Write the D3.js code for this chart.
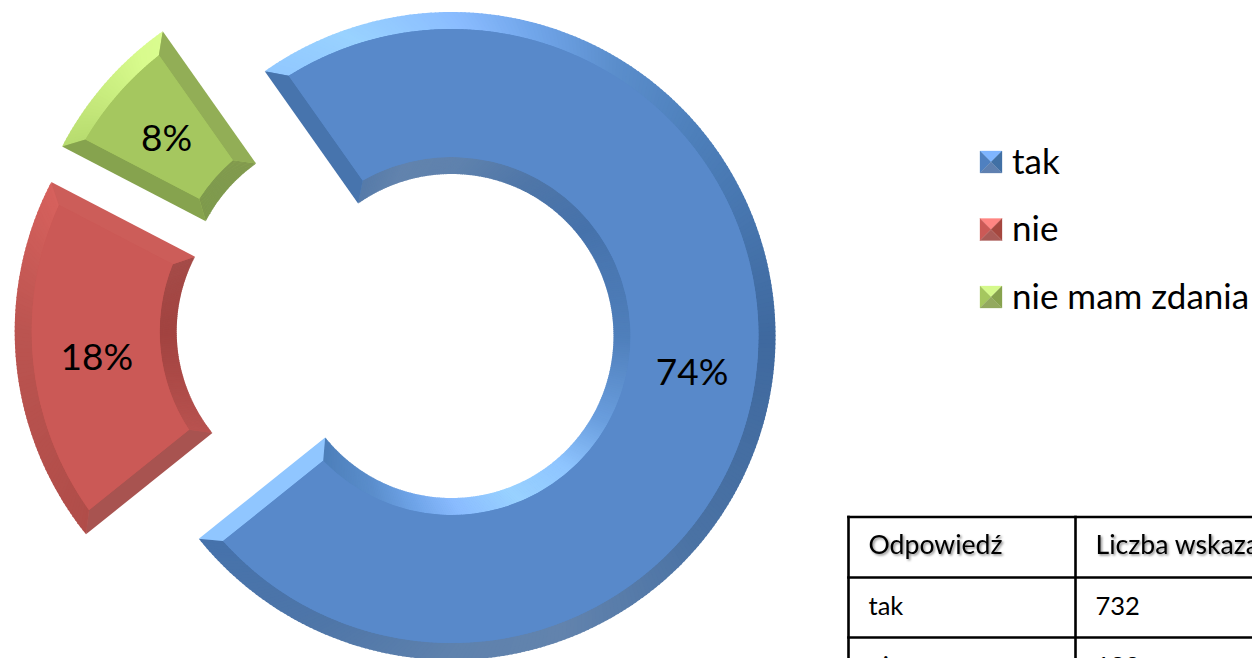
<!DOCTYPE html>
<html lang="pl">
<head>
<meta charset="utf-8">
<script src="https://cdn.jsdelivr.net/npm/d3@7"></script>
<style>
html,body{margin:0;padding:0;background:#fff;overflow:hidden}
svg{display:block}
text{font-family:Lato,"Open Sans",sans-serif;fill:#000}
</style>
</head>
<body>
<svg id="chart" width="1252" height="658" viewBox="0 0 1252 658"></svg>
<script>
// ---- data ----
const categories = ["tak", "nie", "nie mam zdania"];
const counts = [732, 182, 75];
const tableHeaders = ["Odpowiedź", "Liczba wskazań"];
const tableRows = ["tak", "nie"];

// ---- style ----
const baseColors = ["#5889ca", "#cb5956", "#a5c75f"];
const shadeAngles = [0, 15, 30, 50, 90, 130, 160, 180, 205, 230, 270, 300, 320, 340, 360];
const shadeBlue = ["#8abcff","#6fa4e8","#5b8ecc","#4d7fba","#3f699f","#4a72a4","#6283ad","#5f82ad","#4f76a8","#4672ab","#4f7fbb","#6a9ede","#8fc5ff","#99d2ff","#8abcff"];
const shadeRed = ["#e8716c","#d8645f","#c95c58","#b95350","#a24340","#a54f4c","#ac5a57","#aa5754","#b04f4b","#b04d49","#bb5450","#d9625e","#f07a74","#f58078","#e8716c"];
const shadeGreen = ["#c9ee80","#b8da70","#a6c860","#95b158","#7c9848","#7f9a4e","#85994f","#879e55","#86a24e","#8aa850","#97b858","#bbdf72","#d8fb8d","#e0ff96","#c9ee80"];
const legendSwatch = [
  ["#7fb5ff", "#4f80c0", "#4170a5", "#5f80b0"],
  ["#ff8582", "#cb5956", "#a5473f", "#a95a56"],
  ["#d5f98c", "#a5c75f", "#87a24e", "#93a95f"]
];

// ---- layout ----
const outerR = 324, innerR = 162, bevel = 17;
const startDeg = -35.2;
const centres = [[451.5, 336], [338.7, 331.5], [349.5, 296]];
const rad = d => d * Math.PI / 180;

const svg = d3.select("#chart");
const defs = svg.append("defs");
const f = defs.append("filter").attr("id", "hdrShadow")
  .attr("x", "-10%").attr("y", "-20%").attr("width", "120%").attr("height", "150%");
f.append("feDropShadow").attr("dx", 1.5).attr("dy", 1.5).attr("stdDeviation", 1.2)
  .attr("flood-color", "#000").attr("flood-opacity", 0.45);

const pie = d3.pie().sort(null).startAngle(rad(startDeg)).endAngle(rad(startDeg + 360));
const slices = pie(counts);
const total = d3.sum(counts);
const pct = d3.format(".0%");

const shadeScales = [shadeBlue, shadeRed, shadeGreen].map(r =>
  d3.scaleLinear().domain(shadeAngles).range(r).interpolate(d3.interpolateRgb));

const Ro = outerR - bevel, Ri = innerR + bevel;
const dO = Math.asin(bevel / Ro), dI = Math.asin(bevel / Ri);
const topArc = d3.arc().innerRadius(Ri).outerRadius(Ro).padRadius(Ro).padAngle(2 * bevel / Ro);
const labelArc = d3.arc().innerRadius(innerR).outerRadius(outerR).startAngle(d => d.startAngle).endAngle(d => d.endAngle);
const poly = d3.line();
const P = d3.pointRadial;
const norm = a => ((a * 180 / Math.PI) % 360 + 360) % 360;

slices.forEach((s, k) => {
  const g = svg.append("g").attr("transform", `translate(${centres[k]})`);
  const shade = shadeScales[k];
  const a = s.startAngle, b = s.endAngle;
  const n = Math.ceil((b - a) / rad(0.75));
  const step = (b - a) / n;
  const over = rad(0.25);

  // base silhouette, hides hairline seams
  g.append("path").attr("fill", baseColors[k])
    .attr("d", d3.arc().innerRadius(innerR + 1).outerRadius(outerR - 1).startAngle(a + 0.004).endAngle(b - 0.004)());

  // curved bevels: outer rim and inner rim
  d3.range(n).forEach(i => {
    const t0 = i / n, t1 = Math.min(1, (i + 1) / n + over / (b - a));
    const mid = a + (i + 0.5) * step;
    const lerp = (u, v, t) => u + (v - u) * t;
    g.append("path").attr("fill", shade(norm(mid))).attr("d", poly([
      P(lerp(a, b, t0), outerR), P(lerp(a, b, t1), outerR),
      P(lerp(a + dO, b - dO, t1), Ro), P(lerp(a + dO, b - dO, t0), Ro)]) + "Z");
    g.append("path").attr("fill", shade(norm(mid + Math.PI))).attr("d", poly([
      P(lerp(a, b, t0), innerR), P(lerp(a, b, t1), innerR),
      P(lerp(a + dI, b - dI, t1), Ri), P(lerp(a + dI, b - dI, t0), Ri)]) + "Z");
  });

  // straight bevels along both radial edges
  g.append("path").attr("fill", shade(norm(a - Math.PI / 2))).attr("d", poly([
    P(a, outerR), P(a, innerR), P(a + dI, Ri), P(a + dO, Ro)]) + "Z");
  g.append("path").attr("fill", shade(norm(b + Math.PI / 2))).attr("d", poly([
    P(b, outerR), P(b, innerR), P(b - dI, Ri), P(b - dO, Ro)]) + "Z");

  // flat top face
  g.append("path").attr("fill", baseColors[k]).attr("d", topArc({startAngle: a, endAngle: b}));

  // percent label
  const [cx, cy] = labelArc.centroid(s);
  g.append("text").attr("x", cx).attr("y", cy).attr("dy", "0.4em")
    .attr("text-anchor", "middle").attr("font-size", 37)
    .text(pct(s.value / total));
});

// ---- legend ----
const legendY = d3.scalePoint().domain(categories).range([162, 297]);
const sw = 22;
const legend = svg.append("g").selectAll("g").data(categories).join("g")
  .attr("transform", d => `translate(980,${legendY(d) - sw / 2})`);
legend.each(function (d, i) {
  const g = d3.select(this), c = legendSwatch[i], m = sw / 2;
  [[[0,0],[sw,0],[m,m]], [[0,0],[0,sw],[m,m]], [[sw,0],[sw,sw],[m,m]], [[0,sw],[sw,sw],[m,m]]]
    .forEach((pts, j) => g.append("path").attr("fill", c[j]).attr("stroke", c[j]).attr("stroke-width", 0.3).attr("d", poly(pts) + "Z"));
  g.append("text").attr("x", 32).attr("y", 22.5).attr("font-size", 35).text(d);
});

// ---- table (runs off the page, as in the source) ----
const colX = [848.5, 1075.5];
const rowY = d3.scaleLinear().domain([0, 1, 2]).range([517, 577.5, 637.5]);
const table = svg.append("g");
const lineAttrs = sel => sel.attr("stroke", "#000").attr("stroke-width", 2.6);
[0, 1, 2].forEach(r => table.append("line").call(lineAttrs)
  .attr("x1", colX[0] - 1.3).attr("x2", 1252).attr("y1", rowY(r)).attr("y2", rowY(r)));
colX.forEach(x => table.append("line").call(lineAttrs)
  .attr("x1", x).attr("x2", x).attr("y1", rowY(0) - 1.3).attr("y2", 658));
tableHeaders.forEach((t, c) => table.append("text")
  .attr("x", colX[c] + 20).attr("y", 553.5).attr("font-size", 26.6)
  .attr("filter", "url(#hdrShadow)").text(t));
tableRows.forEach((t, r) => {
  const y = rowY(r + 1) + 37.5;
  table.append("text").attr("x", colX[0] + 20).attr("y", y).attr("font-size", 25.5).text(t);
  table.append("text").attr("x", colX[1] + 20).attr("y", y).attr("font-size", 25.5).text(counts[r]);
});
</script>
</body>
</html>
